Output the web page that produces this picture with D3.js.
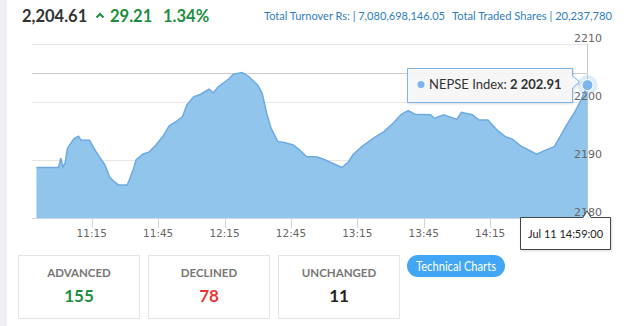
<!DOCTYPE html>
<html><head><meta charset="utf-8">
<script src="https://cdn.jsdelivr.net/npm/d3@7"></script>
<style>body{margin:0;background:#fff;overflow:hidden}svg{display:block}</style>
</head><body><svg id="c" width="624" height="326"></svg>
<script>
const times = ["10:50","11:00","11:01","11:02","11:03","11:04","11:07","11:09","11:10","11:11","11:14","11:17","11:21","11:23","11:25","11:27","11:31","11:32","11:34","11:35","11:38","11:41","11:44","11:47","11:50","11:53","11:56","11:58","12:01","12:04","12:08","12:10","12:12","12:17","12:19","12:23","12:26","12:30","12:32","12:34","12:36","12:39","12:42","12:46","12:49","12:52","12:57","13:00","13:04","13:08","13:11","13:13","13:17","13:22","13:27","13:31","13:35","13:38","13:41","13:48","13:50","13:54","14:00","14:02","14:07","14:10","14:14","14:18","14:22","14:25","14:29","14:33","14:36","14:40","14:44","14:47","14:50","14:53","14:56","14:59"];
const values = [2188.7,2188.7,2190.3,2188.8,2189.5,2192.0,2193.7,2194.1,2193.5,2193.4,2193.4,2191.4,2189.1,2187.1,2186.3,2185.7,2185.7,2186.6,2188.6,2190.0,2191.0,2191.4,2192.6,2194.0,2195.9,2196.6,2197.5,2199.5,2200.9,2201.3,2202.2,2201.6,2202.6,2204.0,2204.8,2205.1,2204.4,2202.9,2201.5,2198.1,2195.5,2193.2,2193.0,2192.6,2191.7,2190.6,2190.5,2190.1,2189.4,2188.7,2189.7,2190.9,2192.3,2193.7,2194.9,2196.3,2197.9,2198.5,2197.9,2197.8,2197.2,2197.8,2197.0,2198.2,2197.8,2196.9,2196.9,2195.2,2194.0,2193.6,2192.4,2191.6,2191.0,2191.7,2192.3,2194.3,2196.3,2198.1,2200.3,2202.91];
const yTicks = [2180, 2190, 2200, 2210];
const xTicks = ["11:15","11:45","12:15","12:45","13:15","13:45","14:15"];
const xDomain = ["10:48","14:59"];
const crosshairValue = 2205;
const indexValue = "2,204.61";
const changeValue = "29.21";
const changePct = "1.34%";
const turnoverText = "Total Turnover Rs: | 7,080,698,146.05";
const sharesText = "Total Traded Shares | 20,237,780";
const statLabels = ["ADVANCED","DECLINED","UNCHANGED"];
const statValues = [155, 78, 11];
const statColors = ["#1e8e3e","#e53935","#222222"];
const tooltipName = "NEPSE Index: ";
const tooltipValue = "2 202.91";
const tooltipDate = "Jul 11 14:59:00";
const buttonText = "Technical Charts";

const parse = d3.timeParse("%H:%M");
const data = times.map((t,i)=>({t:parse(t), v:values[i]}));
const svg = d3.select("#c");
const L = 32, R = 588, T = 44, B = 218;
const x = d3.scaleTime().domain(xDomain.map(parse)).range([L, 587.5]);
const y = d3.scaleLinear().domain([2180, 2210]).range([B, T]);
const sans = "Lato, 'Open Sans', sans-serif";
const axisFont = "'DejaVu Sans', sans-serif";

// left strip
svg.append("rect").attr("x",0).attr("y",0).attr("width",7).attr("height",326).attr("fill","#eff0f5");

// header
svg.append("text").attr("x",22).attr("y",22).attr("font-family",sans).attr("font-size",16.5).attr("font-weight",700).attr("fill","#333").text(indexValue);
svg.append("path").attr("d","M96.5,17.5 L100,14 L103.5,17.5").attr("fill","none").attr("stroke","#1e8e3e").attr("stroke-width",2);
svg.append("text").attr("x",110).attr("y",22).attr("font-family",sans).attr("font-size",16.5).attr("font-weight",700).attr("fill","#1e8e3e").text(changeValue);
svg.append("text").attr("x",163).attr("y",22).attr("font-family",sans).attr("font-size",16.5).attr("font-weight",700).attr("fill","#1e8e3e").text(changePct);
svg.append("text").attr("x",264).attr("y",20).attr("font-family",sans).attr("font-size",11.5).attr("fill","#2f7dc0").attr("textLength",181).attr("lengthAdjust","spacingAndGlyphs").text(turnoverText);
svg.append("text").attr("x",452).attr("y",20).attr("font-family",sans).attr("font-size",11.5).attr("fill","#2f7dc0").attr("textLength",160).attr("lengthAdjust","spacingAndGlyphs").text(sharesText);

// gridlines
svg.append("g").selectAll("line").data(yTicks.slice(1)).join("line")
  .attr("x1",L).attr("x2",R).attr("y1",d=>Math.round(y(d))+0.5).attr("y2",d=>Math.round(y(d))+0.5)
  .attr("stroke","#e6e6e6");
// crosshairs
svg.append("line").attr("x1",L).attr("x2",R).attr("y1",Math.round(y(crosshairValue))+0.5).attr("y2",Math.round(y(crosshairValue))+0.5).attr("stroke","#cccccc");
const last = data[data.length-1];
svg.append("line").attr("x1",x(last.t)).attr("x2",x(last.t)).attr("y1",T).attr("y2",B).attr("stroke","#cccccc");

// area + line
svg.append("path").datum(data).attr("fill","#92c5eb")
  .attr("d", d3.area().x(d=>x(d.t)).y0(B).y1(d=>y(d.v)));
svg.append("path").datum(data).attr("fill","none").attr("stroke","#6eaae2").attr("stroke-width",1.5)
  .attr("d", d3.line().x(d=>x(d.t)).y(d=>y(d.v)));

// x axis
svg.append("line").attr("x1",L).attr("x2",R).attr("y1",B+0.5).attr("y2",B+0.5).attr("stroke","#ccd6eb");
const xg = svg.append("g");
xg.selectAll("line").data(xTicks).join("line")
  .attr("x1",d=>Math.round(x(parse(d)))+0.5).attr("x2",d=>Math.round(x(parse(d)))+0.5)
  .attr("y1",B).attr("y2",B+10).attr("stroke","#ccd6eb");
xg.selectAll("text").data(xTicks).join("text")
  .attr("x",d=>x(parse(d))).attr("y",237).attr("text-anchor","middle")
  .attr("font-family",axisFont).attr("font-size",10.5).attr("fill","#666").text(d=>d);

// y labels
svg.append("g").selectAll("text").data(yTicks).join("text")
  .attr("x",602).attr("y",d=>y(d)-2).attr("text-anchor","end")
  .attr("font-family",axisFont).attr("font-size",11).attr("fill","#666").text(d=>d);

// marker
const px = x(last.t), py = y(last.v);
svg.append("circle").attr("cx",px).attr("cy",py).attr("r",10).attr("fill","#7cb5ec").attr("opacity",0.25);
svg.append("circle").attr("cx",px).attr("cy",py).attr("r",5.5).attr("fill","#7cb5ec").attr("stroke","#fff").attr("stroke-width",1);

// tooltip
const defs = svg.append("defs");
const f = defs.append("filter").attr("id","sh").attr("x","-10%").attr("y","-20%").attr("width","130%").attr("height","160%");
f.append("feDropShadow").attr("dx",1).attr("dy",1).attr("stdDeviation",1.2).attr("flood-color","#000").attr("flood-opacity",0.15);
svg.append("path").attr("d","M407.5,68.5 H572.5 V76 L579.5,82 L572.5,88 V102.5 H407.5 Z")
  .attr("fill","rgba(247,247,247,0.9)").attr("stroke","#7cb5ec").attr("filter","url(#sh)");
svg.append("circle").attr("cx",421).attr("cy",84.5).attr("r",3.5).attr("fill","#7cb5ec");
const tt = svg.append("text").attr("x",429).attr("y",89).attr("font-family",sans).attr("font-size",13).attr("fill","#333");
tt.append("tspan").text(tooltipName);
tt.append("tspan").attr("font-weight",700).text(tooltipValue);

// date label
svg.append("path").attr("d","M520.5,217.5 H583 L587,211 L591,217.5 H610.5 V249.5 H520.5 Z")
  .attr("fill","#fff").attr("stroke","#444").attr("filter","url(#sh)");
svg.append("text").attr("x",565.5).attr("y",237.5).attr("text-anchor","middle").attr("font-family",sans).attr("font-size",11).attr("fill","#222").attr("textLength",75).attr("lengthAdjust","spacingAndGlyphs").text(tooltipDate);

// stat boxes
const boxX = [18.5, 148.5, 278.5];
const bg = svg.append("g").selectAll("g").data(statLabels).join("g");
bg.append("rect").attr("x",(d,i)=>boxX[i]).attr("y",255.5).attr("width",121).attr("height",63).attr("fill","#fff").attr("stroke","#e4e4e4");
bg.append("text").attr("x",(d,i)=>boxX[i]+60.5).attr("y",277).attr("text-anchor","middle")
  .attr("font-family",sans).attr("font-size",11.5).attr("font-weight",700).attr("fill","#777").text(d=>d);
bg.append("text").attr("x",(d,i)=>boxX[i]+60.5).attr("y",302).attr("text-anchor","middle")
  .attr("font-family",sans).attr("font-size",17).attr("font-weight",700).attr("fill",(d,i)=>statColors[i]).text((d,i)=>statValues[i]);

// button
svg.append("rect").attr("x",407).attr("y",255).attr("width",98).attr("height",22).attr("rx",11).attr("fill","#42a5f5");
svg.append("text").attr("x",456).attr("y",270.5).attr("text-anchor","middle").attr("font-family",sans).attr("font-size",13).attr("fill","#fff").attr("textLength",80).attr("lengthAdjust","spacingAndGlyphs").text(buttonText);
</script></body></html>
